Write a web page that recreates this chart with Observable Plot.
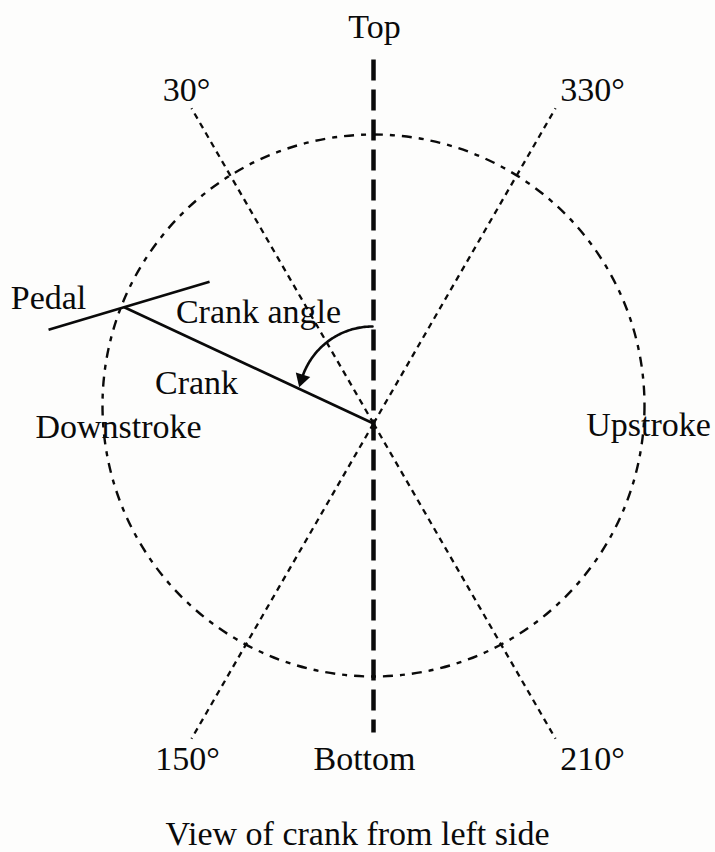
<!DOCTYPE html>
<html>
<head>
<meta charset="utf-8">
<script src="https://cdn.jsdelivr.net/npm/d3@7"></script>
<script src="https://cdn.jsdelivr.net/npm/@observablehq/plot@0.6"></script>
<style>
  html, body { margin: 0; padding: 0; background: #fdfdfc; }
  #chart svg { display: block; }
  #caption {
    width: 715px; text-align: center;
    font-family: "Liberation Serif", "Times New Roman", serif;
    font-size: 34px; line-height: 40px; color: #0a0a0a;
  }
</style>
</head>
<body>
<div id="chart"></div>
<div id="caption"></div>
<script>
// ---- data ----
const refAngles = [30, 330, 150, 210];               // reference lines, degrees CCW from top
const refLabels = ["30°", "330°", "150°", "210°"];
const verticalLabels = ["Top", "Bottom"];
const strokeLabels = ["Downstroke", "Upstroke"];
const partLabels = ["Pedal", "Crank angle", "Crank"];
const crankAngle = 65;                                // crank position, degrees CCW from top
const pedalTilt = 16.6;                               // pedal tilt, degrees above horizontal
const captionText = "View of crank from left side";

// ---- layout (pixels) ----
const W = 715, H = 814;
const pivot = {x: 373, y: 423};
const circle = {x: 373, y: 405, r: 271};
const refLen = 364, crankLen = 275;
const pedalLeft = 79, pedalRight = 89;
const arcC = {x: 372, y: 400, r: 74}, arcEnd = 73;
const font = "Liberation Serif, Times New Roman, serif";
const ink = "#0a0a0a";

const polar = (c, a, d) => ({x: c.x - d * Math.sin(a * Math.PI / 180), y: c.y - d * Math.cos(a * Math.PI / 180)});

const refLines = refAngles.map(a => { const e = polar(pivot, a, refLen); return {x1: pivot.x, y1: pivot.y, x2: e.x, y2: e.y}; });
const pedalPt = polar(pivot, crankAngle, crankLen);
const tilt = pedalTilt * Math.PI / 180;
const pedalLine = [{
  x1: pedalPt.x - pedalLeft * Math.cos(tilt), y1: pedalPt.y + pedalLeft * Math.sin(tilt),
  x2: pedalPt.x + pedalRight * Math.cos(tilt), y2: pedalPt.y - pedalRight * Math.sin(tilt)
}];
const crankLine = [{x1: pivot.x, y1: pivot.y, x2: pedalPt.x, y2: pedalPt.y}];
const arcPts = d3.range(0, arcEnd + 0.5, 1).map(a => polar(arcC, a, arcC.r));
const arrowHead = [{...polar(arcC, arcEnd, arcC.r), rot: 270 - arcEnd}];

const refLabelPos = [[186, 100], [592, 100], [187, 769], [592, 769]];
const texts = [
  ...refLabels.map((t, i) => ({t, x: refLabelPos[i][0], y: refLabelPos[i][1]})),
  {t: verticalLabels[0], x: 374, y: 37},
  {t: verticalLabels[1], x: 364, y: 769},
  {t: strokeLabels[0], x: 118, y: 437},
  {t: strokeLabels[1], x: 648, y: 435},
  {t: partLabels[0], x: 48, y: 308},
  {t: partLabels[1], x: 258, y: 322},
  {t: partLabels[2], x: 196, y: 393}
];

const chart = Plot.plot({
  width: W, height: H, margin: 0,
  x: {domain: [0, W], range: [0, W], axis: null},
  y: {domain: [0, H], range: [0, H], axis: null},
  style: {background: "transparent"},
  marks: [
    Plot.dot([circle], {x: "x", y: "y", r: circle.r, fill: "none", stroke: ink, strokeWidth: 2.4, strokeDasharray: "10,7,5,7"}),
    Plot.link(refLines, {x1: "x1", y1: "y1", x2: "x2", y2: "y2", stroke: ink, strokeWidth: 2.3, strokeDasharray: "6,5"}),
    Plot.link([{x1: pivot.x, y1: 59, x2: pivot.x, y2: 732}], {x1: "x1", y1: "y1", x2: "x2", y2: "y2", stroke: ink, strokeWidth: 4.5, strokeDasharray: "21,9"}),
    Plot.link(crankLine, {x1: "x1", y1: "y1", x2: "x2", y2: "y2", stroke: ink, strokeWidth: 2.6}),
    Plot.link(pedalLine, {x1: "x1", y1: "y1", x2: "x2", y2: "y2", stroke: ink, strokeWidth: 2.6}),
    Plot.line(arcPts, {x: "x", y: "y", stroke: ink, strokeWidth: 2.6, curve: "linear"}),
    Plot.dot(arrowHead, {x: "x", y: "y", symbol: "triangle", r: 5.6, fill: ink, stroke: "none", rotate: "rot"}),
    Plot.text(texts, {x: "x", y: "y", text: "t", fontFamily: font, fontSize: 34, fill: ink, textAnchor: "middle", lineAnchor: "bottom"})
  ]
});
document.getElementById("chart").appendChild(chart);
document.getElementById("caption").textContent = captionText;
</script>
</body>
</html>
